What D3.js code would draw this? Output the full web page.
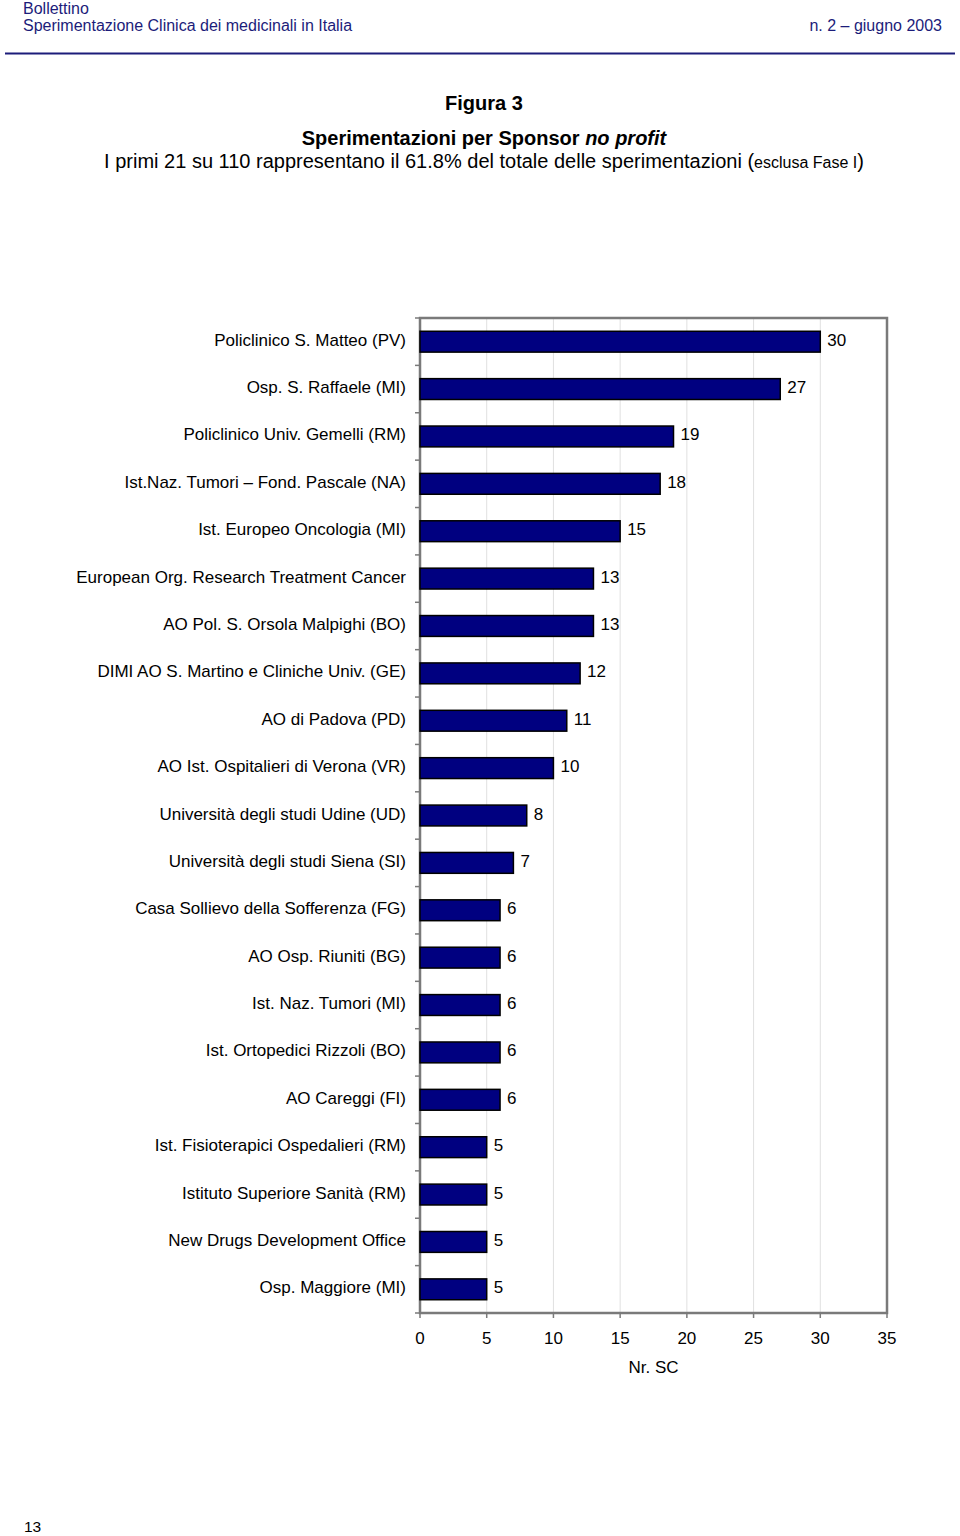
<!DOCTYPE html>
<html><head><meta charset="utf-8">
<script src="https://cdn.jsdelivr.net/npm/d3@7"></script>
<style>body{margin:0;background:#fff}svg{display:block;font-family:Arial,"Liberation Sans",sans-serif}</style>
</head><body>
<script>
const categories = ["Policlinico S. Matteo (PV)","Osp. S. Raffaele (MI)","Policlinico Univ. Gemelli (RM)","Ist.Naz. Tumori \u2013 Fond. Pascale (NA)","Ist. Europeo Oncologia (MI)","European Org. Research Treatment Cancer","AO Pol. S. Orsola Malpighi (BO)","DIMI AO S. Martino e Cliniche Univ. (GE)","AO di Padova (PD)","AO Ist. Ospitalieri di Verona (VR)","Università degli studi Udine (UD)","Università degli studi Siena (SI)","Casa Sollievo della Sofferenza (FG)","AO Osp. Riuniti (BG)","Ist.  Naz. Tumori (MI)","Ist. Ortopedici Rizzoli (BO)","AO Careggi (FI)","Ist. Fisioterapici Ospedalieri (RM)","Istituto Superiore Sanità (RM)","New Drugs Development Office","Osp. Maggiore (MI)"];
const values = [30,27,19,18,15,13,13,12,11,10,8,7,6,6,6,6,6,5,5,5,5];
const xTicks = [0,5,10,15,20,25,30,35];

(function(){
const W=960,H=1536;
const svg=d3.select("body").append("svg").attr("width",W).attr("height",H);
const navy="#1c1c7a";
// header
svg.append("text").attr("x",23).attr("y",14).attr("font-size",16).attr("fill",navy).text("Bollettino");
svg.append("text").attr("x",23).attr("y",31).attr("font-size",16).attr("fill",navy).text("Sperimentazione Clinica dei medicinali in Italia");
svg.append("text").attr("x",942).attr("y",31).attr("text-anchor","end").attr("font-size",16).attr("fill",navy).text("n. 2 \u2013 giugno 2003");
svg.append("line").attr("x1",5).attr("x2",955).attr("y1",53.5).attr("y2",53.5).attr("stroke",navy).attr("stroke-width",2);
// titles
svg.append("text").attr("x",484).attr("y",110).attr("text-anchor","middle").attr("font-size",20).attr("font-weight","bold").text("Figura 3");
const t2=svg.append("text").attr("x",484).attr("y",145).attr("text-anchor","middle").attr("font-size",20).attr("font-weight","bold");
t2.append("tspan").text("Sperimentazioni per Sponsor ");
t2.append("tspan").attr("font-style","italic").text("no profit");
const t3=svg.append("text").attr("x",484).attr("y",168).attr("text-anchor","middle").attr("font-size",20);
t3.append("tspan").text("I primi 21 su 110 rappresentano il 61.8% del totale delle sperimentazioni (");
t3.append("tspan").attr("font-size",16).text("esclusa Fase I");
t3.append("tspan").text(")");

// chart
const pL=420,pR=887,pT=318,pB=1313;
const x=d3.scaleLinear().domain([0,35]).range([pL,pR]);
const y=d3.scaleBand().domain(categories).range([pT,pB]).paddingInner(0.56).paddingOuter(0.28);
const g=svg.append("g");
g.selectAll("line.grid").data(xTicks.slice(1,-1)).join("line")
 .attr("x1",d=>x(d)).attr("x2",d=>x(d)).attr("y1",pT).attr("y2",pB).attr("stroke","#e0e0e0").attr("stroke-width",1);
g.append("rect").attr("x",pL).attr("y",pT).attr("width",pR-pL).attr("height",pB-pT).attr("fill","none").attr("stroke","#7a7a7a").attr("stroke-width",2.5);
const step=(pB-pT)/categories.length;
g.selectAll("line.yt").data(d3.range(categories.length+1)).join("line")
 .attr("x1",pL-5).attr("x2",pL).attr("y1",i=>pT+i*step).attr("y2",i=>pT+i*step).attr("stroke","#7a7a7a").attr("stroke-width",1.5);
g.selectAll("line.xt").data(xTicks).join("line")
 .attr("x1",d=>x(d)).attr("x2",d=>x(d)).attr("y1",pB).attr("y2",pB+5).attr("stroke","#7a7a7a").attr("stroke-width",1.5);
g.selectAll("rect.bar").data(categories).join("rect")
 .attr("x",x(0)).attr("y",d=>y(d)).attr("width",(d,i)=>x(values[i])-x(0)).attr("height",y.bandwidth())
 .attr("fill","#000080").attr("stroke","#000").attr("stroke-width",1.5);
g.selectAll("text.val").data(categories).join("text")
 .attr("x",(d,i)=>x(values[i])+7).attr("y",d=>y(d)+y.bandwidth()/2+4).attr("font-size",17).text((d,i)=>values[i]);
g.selectAll("text.cat").data(categories).join("text")
 .attr("x",pL-14).attr("y",d=>y(d)+y.bandwidth()/2+4).attr("text-anchor","end").attr("font-size",17).text(d=>d);
g.selectAll("text.xl").data(xTicks).join("text")
 .attr("x",d=>x(d)).attr("y",1344).attr("text-anchor","middle").attr("font-size",17).text(d=>d);
svg.append("text").attr("x",(pL+pR)/2).attr("y",1373).attr("text-anchor","middle").attr("font-size",17).text("Nr. SC");
svg.append("text").attr("x",24).attr("y",1532).attr("font-size",15.5).text("13");
})();
</script>
</body></html>
